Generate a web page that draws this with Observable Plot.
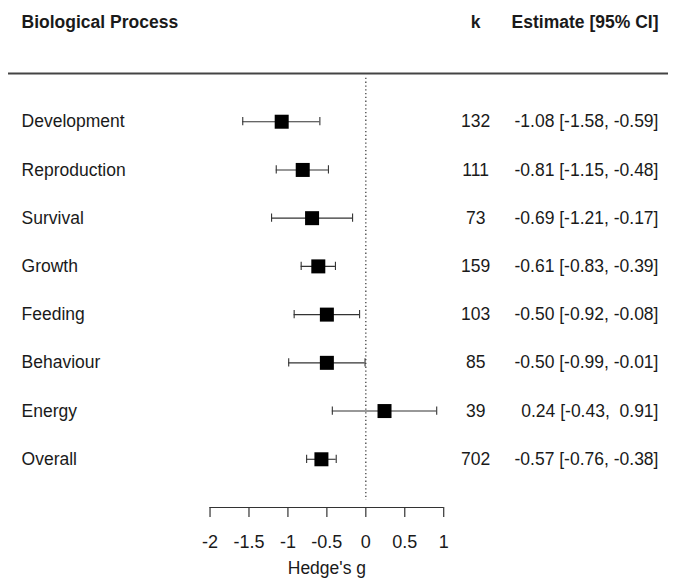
<!DOCTYPE html>
<html>
<head>
<meta charset="utf-8">
<script src="https://cdn.jsdelivr.net/npm/d3@7"></script>
<script src="https://cdn.jsdelivr.net/npm/@observablehq/plot@0.6"></script>
<style>
  html, body { margin: 0; padding: 0; background: #fff; }
  svg text { white-space: pre; }
</style>
</head>
<body>
<div id="chart"></div>
<script>
// ---- data ----
const processes = ["Development", "Reproduction", "Survival", "Growth", "Feeding", "Behaviour", "Energy", "Overall"];
const kValues   = [132, 111, 73, 159, 103, 85, 39, 702];
const estimates = [-1.08, -0.81, -0.69, -0.61, -0.50, -0.50, 0.24, -0.57];
const ciLower   = [-1.58, -1.15, -1.21, -0.83, -0.92, -0.99, -0.43, -0.76];
const ciUpper   = [-0.59, -0.48, -0.17, -0.39, -0.08, -0.01, 0.91, -0.38];
const xTicks    = [-2, -1.5, -1, -0.5, 0, 0.5, 1];
const headers   = ["Biological Process", "k", "Estimate [95% CI]"];
const xLabel    = "Hedge's g";

// ---- layout (data units, like R's forest xlim) ----
const colLabel = -4.42, colK = 1.41, colEst = 3.757;
const lineL = -4.587, lineR = 3.886;
const headerRow = -1.06;

const fmt = v => (v < 0 ? "-" : " ") + Math.abs(v).toFixed(2);
const rows = processes.map((p, i) => ({
  name: p, row: i + 1, k: kValues[i], est: estimates[i], lo: ciLower[i], hi: ciUpper[i],
  label: `${fmt(estimates[i])} [${fmt(ciLower[i])}, ${fmt(ciUpper[i])}]`.replace(/^ /, "")
}));
const caps = rows.flatMap(d => [{x: d.lo, row: d.row}, {x: d.hi, row: d.row}]);

const font = "'Liberation Sans', Arial, Helvetica, sans-serif";
const ink = "#1a1a1a";
const fs = 17.5;

const chart = Plot.plot({
  width: 673,
  height: 579,
  marginLeft: 0,
  marginRight: 0,
  marginTop: 73,
  marginBottom: 72,
  style: {fontFamily: font, background: "#fff", color: ink},
  x: {domain: [-4.69, 3.95]},
  y: {domain: [0, 9], reverse: true, axis: null},
  marks: [
    // header rule
    Plot.ruleY([0], {x1: lineL, x2: lineR, stroke: "#444", strokeWidth: 1.8}),
    // reference line at zero
    Plot.ruleX([0], {y1: 0.1, y2: 8.85, stroke: "#444", strokeWidth: 1.3, strokeDasharray: "1.3,2.5"}),
    // CIs
    Plot.ruleY(rows, {y: "row", x1: "lo", x2: "hi", stroke: "#333", strokeWidth: 1.1}),
    Plot.ruleX(caps, {x: "x", y1: d => d.row - 0.085, y2: d => d.row + 0.085, stroke: "#333", strokeWidth: 1.1}),
    // estimates
    Plot.dot(rows, {x: "est", y: "row", symbol: "square", r: 7.9, fill: "#000", stroke: null}),
    // row labels
    Plot.text(rows, {x: colLabel, y: "row", text: "name", textAnchor: "start", fontSize: fs, fill: ink}),
    Plot.text(rows, {x: colK, y: "row", text: d => String(d.k), textAnchor: "middle", fontSize: fs, fill: ink}),
    Plot.text(rows, {x: colEst, y: "row", text: "label", textAnchor: "end", fontSize: fs, fill: ink}),
    // headers
    Plot.text([headers[0]], {x: colLabel, y: headerRow, text: d => d, textAnchor: "start", fontSize: fs, fontWeight: "bold", fill: ink}),
    Plot.text([headers[1]], {x: colK, y: headerRow, text: d => d, textAnchor: "middle", fontSize: fs, fontWeight: "bold", fill: ink}),
    Plot.text([headers[2]], {x: colEst, y: headerRow, text: d => d, textAnchor: "end", fontSize: fs, fontWeight: "bold", fill: ink}),
    // x axis
    Plot.ruleY([9], {x1: xTicks[0], x2: xTicks[xTicks.length - 1], stroke: "#333", strokeWidth: 1.2}),
    Plot.axisX({ticks: xTicks, tickSize: 10, tickPadding: 18, tickFormat: d => String(d), fontSize: 18, label: null, stroke: "#333", strokeWidth: 1.2, fill: ink}),
    Plot.text([xLabel], {x: -0.5, frameAnchor: "bottom", dy: 66, text: d => d, fontSize: fs, fill: ink})
  ]
});
document.getElementById("chart").appendChild(chart);
</script>
</body>
</html>
